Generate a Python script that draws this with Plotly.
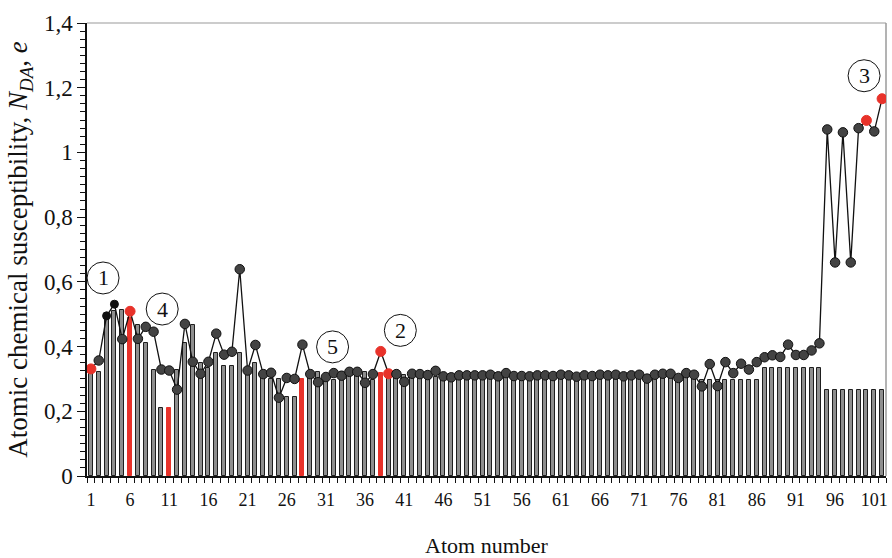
import plotly.graph_objects as go

# ---------------- data ----------------
atoms = list(range(1, 103))

ncs_line = [0.331, 0.357, 0.495, 0.531, 0.423, 0.509, 0.424, 0.461, 0.446, 0.329,
            0.326, 0.267, 0.470, 0.353, 0.316, 0.353, 0.440, 0.375, 0.384, 0.639,
            0.326, 0.405, 0.315, 0.319, 0.242, 0.303, 0.300, 0.406, 0.315, 0.290,
            0.306, 0.318, 0.310, 0.322, 0.322, 0.288, 0.315, 0.385, 0.316, 0.315,
            0.291, 0.316, 0.315, 0.312, 0.325, 0.308, 0.305, 0.311, 0.311, 0.311,
            0.311, 0.313, 0.308, 0.318, 0.309, 0.309, 0.308, 0.311, 0.311, 0.309,
            0.313, 0.311, 0.307, 0.311, 0.309, 0.313, 0.311, 0.313, 0.308, 0.311,
            0.313, 0.301, 0.313, 0.316, 0.316, 0.303, 0.318, 0.313, 0.277, 0.346,
            0.278, 0.352, 0.318, 0.347, 0.329, 0.352, 0.367, 0.373, 0.368, 0.406,
            0.374, 0.374, 0.388, 0.410, 1.071, 0.660, 1.062, 0.660, 1.075, 1.099,
            1.065, 1.166]

bar_vals = [0.325, 0.321, 0.490, 0.510, 0.514, 0.488, 0.468, 0.410, 0.328, 0.210,
            0.210, 0.328, 0.410, 0.468, 0.348, 0.335, 0.380, 0.340, 0.340, 0.380,
            0.335, 0.348, 0.310, 0.300, 0.300, 0.243, 0.243, 0.300, 0.320, 0.320,
            0.298, 0.298, 0.320, 0.320, 0.320, 0.320, 0.298, 0.318, 0.305, 0.305,
            0.312, 0.305, 0.305, 0.305, 0.305, 0.305, 0.305, 0.305, 0.305, 0.305,
            0.305, 0.305, 0.305, 0.305, 0.305, 0.305, 0.305, 0.305, 0.305, 0.305,
            0.305, 0.305, 0.305, 0.305, 0.305, 0.305, 0.305, 0.305, 0.305, 0.305,
            0.305, 0.305, 0.305, 0.305, 0.305, 0.303, 0.305, 0.305, 0.298, 0.298,
            0.298, 0.298, 0.298, 0.298, 0.298, 0.298, 0.334, 0.334, 0.334, 0.334,
            0.334, 0.334, 0.334, 0.334, 0.266, 0.266, 0.266, 0.266, 0.266, 0.266,
            0.266, 0.266]

red_bar_atoms = [6, 11, 28, 38]
red_point_atoms = [1, 6, 38, 39, 100, 102]
black_point_atoms = [3, 4]

x_tick_vals = list(range(1, 102, 5))
x_tick_text = [str(v) for v in x_tick_vals]
y_tick_vals = [0, 0.2, 0.4, 0.6, 0.8, 1.0, 1.2, 1.4]
y_tick_text = ["0", "0,2", "0,4", "0,6", "0,8", "1", "1,2", "1,4"]

labels_txt = ["1", "4", "5", "2", "3"]
labels_x = [2.55, 10.1, 31.85, 40.5, 99.7]
labels_y = [0.612, 0.516, 0.399, 0.450, 1.237]

# ---------------- styles ----------------
RED = "#e8322a"
GREY_BAR = "#8e8e8e"
FONT = "Liberation Serif"

bar_fill = [RED if a in red_bar_atoms else GREY_BAR for a in atoms]
bar_line = [RED if a in red_bar_atoms else "#1e1e1e" for a in atoms]

pt_fill, pt_line, pt_size = [], [], []
for a in atoms:
    if a in red_point_atoms:
        pt_fill.append(RED); pt_line.append(RED); pt_size.append(10)
    elif a in black_point_atoms:
        pt_fill.append("#111111"); pt_line.append("#111111"); pt_size.append(8)
    else:
        pt_fill.append("#434343"); pt_line.append("#111111"); pt_size.append(9.5)

fig = go.Figure()
fig.add_trace(go.Bar(
    x=atoms, y=bar_vals, width=0.5,
    marker=dict(color=bar_fill, line=dict(color=bar_line, width=1)),
    showlegend=False, hoverinfo="skip"))
fig.add_trace(go.Scatter(
    x=atoms, y=ncs_line, mode="lines+markers",
    line=dict(color="#111111", width=1.3),
    marker=dict(color=pt_fill, size=pt_size, opacity=1,
                line=dict(color=pt_line, width=1)),
    showlegend=False))

shapes = []
annotations = []
for t, cx, cy in zip(labels_txt, labels_x, labels_y):
    shapes.append(dict(type="circle", xref="x", yref="y",
                       xsizemode="pixel", ysizemode="pixel",
                       xanchor=cx, yanchor=cy, x0=-16, x1=16, y0=-16, y1=16,
                       line=dict(color="#111111", width=1), fillcolor="rgba(0,0,0,0)"))
    annotations.append(dict(x=cx, y=cy, xref="x", yref="y", text=t, showarrow=False,
                            font=dict(family=FONT, size=22, color="#111111")))

# grey top and right frame
shapes.append(dict(type="line", xref="paper", yref="paper", x0=0, x1=1, y0=1, y1=1,
                   line=dict(color="#9a9a9a", width=1.2), layer="below"))
shapes.append(dict(type="line", xref="paper", yref="paper", x0=1, x1=1, y0=0, y1=1,
                   line=dict(color="#9a9a9a", width=1.5), layer="below"))

fig.update_layout(
    width=892, height=558,
    margin=dict(l=87, r=6, t=23, b=82),
    plot_bgcolor="white", paper_bgcolor="white",
    font=dict(family=FONT, color="#111111"),
    shapes=shapes, annotations=annotations,
    bargap=0,
)
fig.update_xaxes(
    automargin=False,
    range=[0.5, 102.5], tickmode="array", tickvals=x_tick_vals, ticktext=x_tick_text,
    ticks="outside", ticklen=7, tickcolor="rgba(0,0,0,0)",
    tickfont=dict(family=FONT, size=18, color="#111111"),
    showline=True, linecolor="#111111", linewidth=1.5, showgrid=False, zeroline=False,
    minor=dict(tickmode="linear", tick0=0.5, dtick=1, ticks="outside", ticklen=5,
               tickcolor="#111111", tickwidth=1, showgrid=False),
    title=dict(text="Atom number", font=dict(family=FONT, size=22, color="#111111"),
               standoff=30),
)
fig.update_yaxes(
    automargin=False,
    range=[0, 1.4], tickmode="array", tickvals=y_tick_vals, ticktext=y_tick_text,
    ticks="outside", ticklen=8, tickcolor="#111111", tickwidth=1,
    tickfont=dict(family=FONT, size=23, color="#111111"),
    showline=True, linecolor="#111111", linewidth=1.5, showgrid=False, zeroline=False,
    minor=dict(tickmode="linear", tick0=0, dtick=0.025, ticks="outside", ticklen=5,
               tickcolor="#111111", tickwidth=1, showgrid=False),
    title=dict(text="Atomic chemical susceptibility, <i>N</i><sub><i>DA</i></sub>, <i>e</i>",
               font=dict(family=FONT, size=27, color="#111111"), standoff=8),
)

fig.write_html("out.html")
